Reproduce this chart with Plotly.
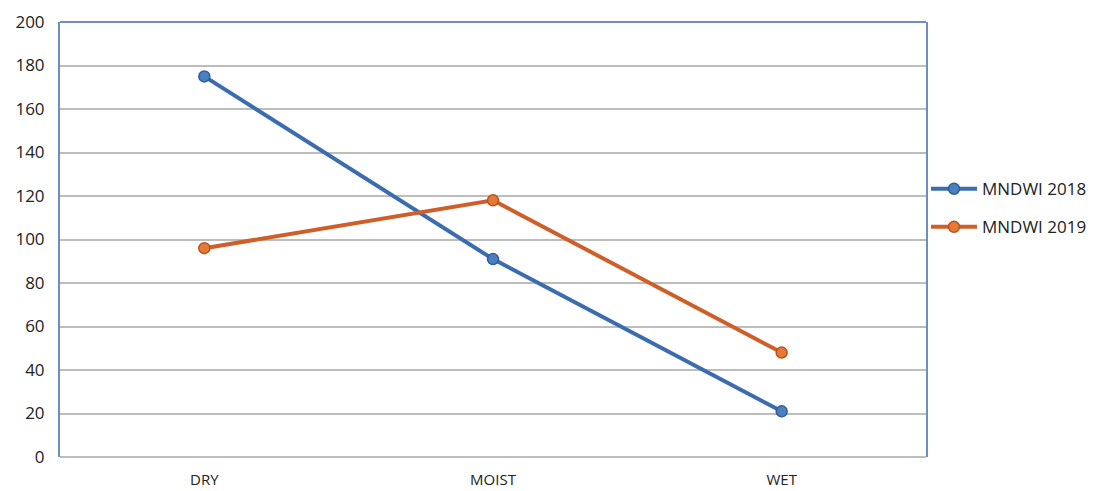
import plotly.graph_objects as go

categories = ["DRY", "MOIST", "WET"]
mndwi_2018 = [175, 91, 21]
mndwi_2019 = [96, 118, 48]
y_ticks = [0, 20, 40, 60, 80, 100, 120, 140, 160, 180, 200]

fig = go.Figure()
fig.add_trace(go.Scatter(
    x=categories, y=mndwi_2018, name="MNDWI 2018", mode="lines+markers",
    line=dict(color="#3a6caf", width=4),
    marker=dict(size=11, color="#4a7fc1", line=dict(color="#2f5d99", width=1.5)),
    legendgroup="a"))
fig.add_trace(go.Scatter(
    x=categories, y=mndwi_2019, name="MNDWI 2019", mode="lines+markers",
    line=dict(color="#cf5f28", width=4),
    marker=dict(size=11, color="#e57a37", line=dict(color="#b9521f", width=1.5)),
    legendgroup="b"))

fig.update_layout(
    width=1091, height=483,
    margin=dict(l=52, r=173, t=14, b=34, autoexpand=False),
    paper_bgcolor="white", plot_bgcolor="white",
    font=dict(family="Open Sans, Liberation Sans, sans-serif", size=16, color="#222"),
    showlegend=True,
    legend=dict(x=1.0, xanchor="left", y=0.572, yanchor="middle",
                font=dict(size=17), traceorder="grouped", tracegroupgap=13,
                itemwidth=46, bgcolor="rgba(0,0,0,0)"),
    xaxis=dict(type="category", range=[-0.5, 2.5], showgrid=False, automargin=False,
               showline=False, ticks="", ticklabelstandoff=12,
               tickfont=dict(size=15)),
    yaxis=dict(range=[0, 200], tickvals=y_ticks, showgrid=True, automargin=False,
               gridcolor="#bdbdbd", gridwidth=1.5, zeroline=True,
               zerolinecolor="#bdbdbd", zerolinewidth=1.5,
               showline=True, linecolor="#6b8fc2", linewidth=2, mirror=True,
               ticks="", ticklabelstandoff=10, tickfont=dict(size=17)),
)
fig.add_shape(type="line", xref="paper", yref="paper", x0=0, x1=1, y0=1, y1=1,
              line=dict(color="#6b8fc2", width=2))

fig.write_html("out.html")
